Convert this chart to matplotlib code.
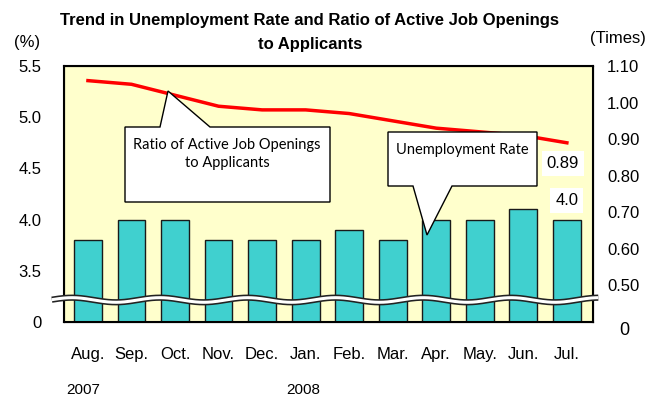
import numpy as np
import matplotlib.pyplot as plt
from matplotlib.patches import Polygon
from matplotlib.transforms import blended_transform_factory

months = ["Aug.", "Sep.", "Oct.", "Nov.", "Dec.", "Jan.", "Feb.", "Mar.", "Apr.", "May.", "Jun.", "Jul."]
unemployment = [3.8, 4.0, 4.0, 3.8, 3.8, 3.8, 3.9, 3.8, 4.0, 4.0, 4.1, 4.0]
job_ratio = [1.06, 1.05, 1.02, 0.99, 0.98, 0.98, 0.97, 0.95, 0.93, 0.92, 0.91, 0.89]
left_ticks = [3.0, 3.5, 4.0, 4.5, 5.0, 5.5]
left_labels = ["0", "3.5", "4.0", "4.5", "5.0", "5.5"]
right_ticks = [0.5, 0.6, 0.7, 0.8, 0.9, 1.0, 1.1]
right_labels = ["0.50", "0.60", "0.70", "0.80", "0.90", "1.00", "1.10"]

plt.rcParams['font.family'] = ['Liberation Sans Narrow', 'Liberation Sans', 'DejaVu Sans']

W, H = 656, 400
fig = plt.figure(figsize=(W / 100, H / 100), dpi=100)
L, R, T, B = 64, 593, 66, 322
ax = fig.add_axes([L / W, 1 - B / H, (R - L) / W, (B - T) / H])
ax.set_facecolor('#FFFFCC')

x = np.arange(len(months))
ax.bar(x, unemployment, width=0.64, bottom=0, color='#40D0CF', edgecolor='#1a1a1a', linewidth=1, zorder=2)
ax.set_xlim(-0.55, 11.6)
ax.set_ylim(3.0, 5.5)
ax.set_yticks(left_ticks)
ax.set_yticklabels(left_labels, fontsize=12)
ax.set_xticks(x)
ax.set_xticklabels(months, fontsize=12)
ax.tick_params(axis='both', length=0)
ax.tick_params(axis='y', pad=16)
ax.tick_params(axis='x', pad=18)
for s in ax.spines.values():
    s.set_linewidth(1.5)

ax2 = ax.twinx()
ax2.plot(x, job_ratio, color='#FF0000', linewidth=2.5, zorder=3)
ax2.set_ylim(0.40, 1.10)
ax2.set_yticks(right_ticks)
ax2.set_yticklabels(right_labels, fontsize=12)
ax2.tick_params(axis='y', length=0, pad=10)
ax2.text(1.06, -0.035, "0", transform=ax2.transAxes, fontsize=13, ha='center', va='center')
ax.set_zorder(1)
ax2.set_zorder(2)
ax2.patch.set_visible(False)

# wavy axis break
def px(xp, yp):
    return ((xp - L) / (R - L), (B - yp) / (B - T))

wx = np.linspace(-0.023, 1.01, 400)
wy = 0.086 + 0.009 * np.sin(2 * np.pi * wx / 0.166 + 1.0)
ax2.plot(wx, wy, transform=ax2.transAxes, color='#222222', linewidth=4.5, clip_on=False,
         solid_capstyle='butt', zorder=5)
ax2.plot(wx, wy, transform=ax2.transAxes, color='white', linewidth=2.2, clip_on=False,
         solid_capstyle='butt', zorder=6)

# callouts
ratio_pts = [(125, 127), (160, 127), (168, 91), (210, 127), (330, 127), (330, 202), (125, 202)]
ax2.add_patch(Polygon([px(*p) for p in ratio_pts], closed=True, facecolor='white', edgecolor='black',
                      linewidth=1, transform=ax2.transAxes, zorder=7))
ax2.text(*px(227, 154), "Ratio of Active Job Openings\nto Applicants", transform=ax2.transAxes,
         fontsize=10.5, family='Lato', ha='center', va='center', linespacing=1.3, zorder=8)

unemp_pts = [(388, 132), (537, 132), (537, 186), (452, 186), (427, 235), (413, 186), (388, 186)]
ax2.add_patch(Polygon([px(*p) for p in unemp_pts], closed=True, facecolor='white', edgecolor='black',
                      linewidth=1, transform=ax2.transAxes, zorder=7))
ax2.text(*px(462, 150), "Unemployment Rate", transform=ax2.transAxes,
         fontsize=10.5, family='Lato', ha='center', va='center', zorder=8)

ax2.annotate("0.89", xy=(x[-1], job_ratio[-1]), xytext=(-3, -15), textcoords='offset points',
             fontsize=12, ha='center', va='center', zorder=8,
             bbox=dict(boxstyle='square,pad=0.3', facecolor='white', edgecolor='none'))
ax.annotate("4.0", xy=(x[-1], unemployment[-1]), xytext=(0, 14), textcoords='offset points',
            fontsize=12, ha='center', va='center', zorder=8,
            bbox=dict(boxstyle='square,pad=0.3', facecolor='white', edgecolor='none'))

# years
trans = blended_transform_factory(ax.transData, ax.transAxes)
ax.text(-0.1, -0.266, "2007", transform=trans, fontsize=11, ha='center', va='center')
ax.text(4.95, -0.266, "2008", transform=trans, fontsize=11, ha='center', va='center')

fig.text(310 / W, 1 - 20 / H, "Trend in Unemployment Rate and Ratio of Active Job Openings",
         fontsize=12, fontweight='bold', ha='center', va='center')
fig.text(310 / W, 1 - 45 / H, "to Applicants", fontsize=12, fontweight='bold', ha='center', va='center')
fig.text(27 / W, 1 - 42 / H, "(%)", fontsize=12, ha='center', va='center')
fig.text(618 / W, 1 - 38 / H, "(Times)", fontsize=12, ha='center', va='center')

fig.savefig("out.png", dpi=100)
